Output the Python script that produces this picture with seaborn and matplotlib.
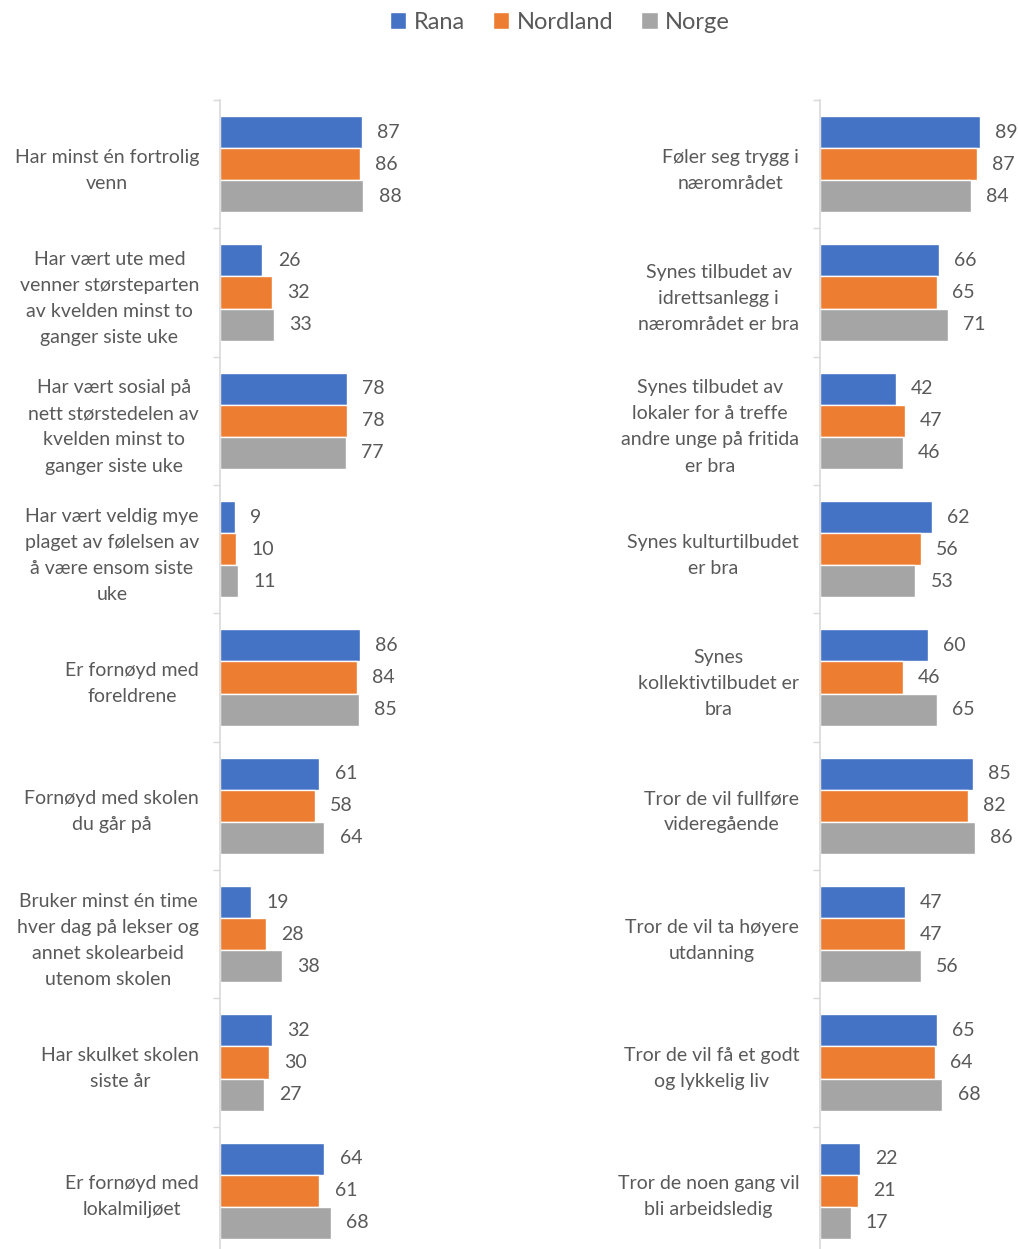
import pandas as pd
import seaborn as sns
import matplotlib.pyplot as plt
from matplotlib.patches import Patch

# Series names and colours
series = ["Rana", "Nordland", "Norge"]
colors = ["#4472C4", "#ED7D31", "#A5A5A5"]

# Left panel
left_cats = [
    "Har minst én fortrolig\nvenn",
    "Har vært ute med\nvenner størsteparten\nav kvelden minst to\nganger siste uke",
    "Har vært sosial på\nnett størstedelen av\nkvelden minst to\nganger siste uke",
    "Har vært veldig mye\nplaget av følelsen av\nå være ensom siste\nuke",
    "Er fornøyd med\nforeldrene",
    "Fornøyd med skolen\ndu går på",
    "Bruker minst én time\nhver dag på lekser og\nannet skolearbeid\nutenom skolen",
    "Har skulket skolen\nsiste år",
    "Er fornøyd med\nlokalmiljøet",
]
left_rana = [87, 26, 78, 9, 86, 61, 19, 32, 64]
left_nordland = [86, 32, 78, 10, 84, 58, 28, 30, 61]
left_norge = [88, 33, 77, 11, 85, 64, 38, 27, 68]

# Right panel
right_cats = [
    "Føler seg trygg i\nnærområdet",
    "Synes tilbudet av\nidrettsanlegg i\nnærområdet er bra",
    "Synes tilbudet av\nlokaler for å treffe\nandre unge på fritida\ner bra",
    "Synes kulturtilbudet\ner bra",
    "Synes\nkollektivtilbudet er\nbra",
    "Tror de vil fullføre\nvideregående",
    "Tror de vil ta høyere\nutdanning",
    "Tror de vil få et godt\nog lykkelig liv",
    "Tror de noen gang vil\nbli arbeidsledig",
]
right_rana = [89, 66, 42, 62, 60, 85, 47, 65, 22]
right_nordland = [87, 65, 47, 56, 46, 82, 47, 64, 21]
right_norge = [84, 71, 46, 53, 65, 86, 56, 68, 17]


def long_table(cats, rana, nordland, norge):
    rows = []
    for vals, name in zip([rana, nordland, norge], series):
        for c, v in zip(cats, vals):
            rows.append({"kategori": c, "serie": name, "verdi": v})
    return pd.DataFrame(rows)


sns.set_theme(style="white")
plt.rcParams["font.family"] = ["Lato", "DejaVu Sans"]
text_color = "#595959"
grid_color = "#D9D9D9"

fig = plt.figure(figsize=(10.18, 12.49), dpi=100)
ax_l = fig.add_axes([220 / 1018, -6 / 1249, 163 / 1018, 1155 / 1249])
ax_r = fig.add_axes([820 / 1018, -6 / 1249, 180 / 1018, 1155 / 1249])

panels = [
    (ax_l, long_table(left_cats, left_rana, left_nordland, left_norge), left_cats),
    (ax_r, long_table(right_cats, right_rana, right_nordland, right_norge), right_cats),
]

for ax, df, cats in panels:
    sns.barplot(data=df, y="kategori", x="verdi", hue="serie", order=cats,
                hue_order=series, palette=colors, orient="h", width=0.75,
                saturation=1, legend=False, ax=ax)
    for cont in ax.containers:
        ax.bar_label(cont, padding=11, fontsize=14, color=text_color)
    ax.set_xlim(0, 100)
    ax.set_ylim(len(cats) - 0.5, -0.5)
    ax.set_xlabel("")
    ax.set_ylabel("")
    ax.set_xticks([])
    ax.set_yticks(range(len(cats)))
    ax.set_yticklabels(cats, fontsize=14, color=text_color,
                       multialignment="center", linespacing=1.65)
    ax.set_yticks([i - 0.5 for i in range(len(cats) + 1)], minor=True)
    ax.tick_params(axis="y", which="major", length=0, pad=15)
    ax.tick_params(axis="y", which="minor", length=5, width=1, color=grid_color, left=True)
    for s in ["top", "right", "bottom"]:
        ax.spines[s].set_visible(False)
    ax.spines["left"].set_color(grid_color)
    ax.spines["left"].set_linewidth(1.2)

handles = [Patch(facecolor=c, label=s) for c, s in zip(colors, series)]
fig.legend(handles=handles, loc="center", bbox_to_anchor=(0.55, 0.982), ncol=3,
           frameon=False, fontsize=17, labelcolor=text_color, handlelength=0.7,
           handleheight=0.7, handletextpad=0.3, columnspacing=1.2)

fig.savefig("out.png", dpi=100)
